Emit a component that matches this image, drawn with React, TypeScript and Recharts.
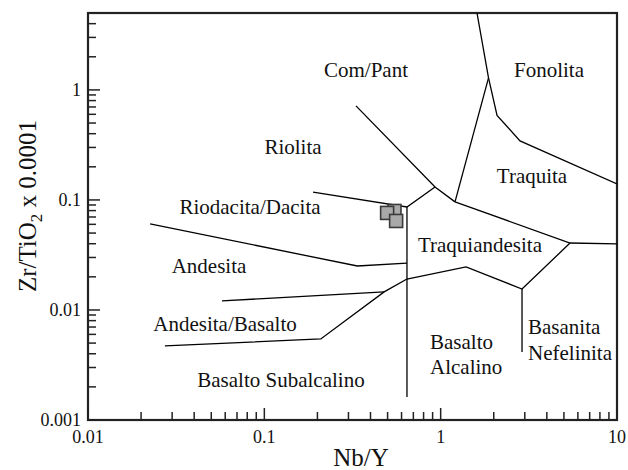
import React from 'react';
import { ComposedChart, Line, Scatter, XAxis, YAxis, Customized } from 'recharts';

const FONT = '"Liberation Serif", "Times New Roman", serif';
const INK = '#111';

// field boundaries, Nb/Y vs Zr/TiO2 x 0.0001 (Winchester & Floyd)
const comPantLine = [{ x: 0.331, y: 0.716 }, { x: 0.929, y: 0.131 }, { x: 1.206, y: 0.096 }];
const fonolitaLine = [
  { x: 1.607, y: 5 }, { x: 1.868, y: 1.285 }, { x: 2.088, y: 0.586 },
  { x: 2.818, y: 0.344 }, { x: 10, y: 0.14 },
];
const traquitaLeft = [{ x: 1.868, y: 1.285 }, { x: 1.206, y: 0.096 }];
const traquitaBottom = [{ x: 1.206, y: 0.096 }, { x: 5.416, y: 0.0406 }, { x: 10, y: 0.0398 }];
const traquiandLower = [
  { x: 0.644, y: 0.0191 }, { x: 1.393, y: 0.0246 }, { x: 2.893, y: 0.0155 }, { x: 5.416, y: 0.0406 },
];
const basanitaLine = [{ x: 2.893, y: 0.0155 }, { x: 2.893, y: 0.00415 }];
const alkalineDivide = [{ x: 0.644, y: 0.0863 }, { x: 0.644, y: 0.00162 }];
const dacitaTop = [{ x: 0.189, y: 0.118 }, { x: 0.644, y: 0.0863 }, { x: 0.929, y: 0.131 }];
const andesitaTop = [{ x: 0.0225, y: 0.0605 }, { x: 0.337, y: 0.0251 }, { x: 0.644, y: 0.0267 }];
const andesitaBottom = [{ x: 0.0575, y: 0.0121 }, { x: 0.478, y: 0.0146 }];
const basaltoTop = [
  { x: 0.0273, y: 0.00471 }, { x: 0.209, y: 0.00545 }, { x: 0.478, y: 0.0146 }, { x: 0.644, y: 0.0191 },
];

const boundaries = [
  comPantLine, fonolitaLine, traquitaLeft, traquitaBottom, traquiandLower,
  basanitaLine, alkalineDivide, dacitaTop, andesitaTop, andesitaBottom, basaltoTop,
];

// samples (drawing order: back to front)
const samples = [
  { x: 0.547, y: 0.0794 },
  { x: 0.497, y: 0.0762 },
  { x: 0.559, y: 0.0644 },
];

const xMajor = [0.01, 0.1, 1, 10];
const yMajor = [0.001, 0.01, 0.1, 1];
const minorSteps = [2, 3, 4, 5, 6, 7, 8, 9];

const xTicks = [
  ...xMajor,
  ...[0.01, 0.1, 1].flatMap((d) => minorSteps.map((m) => Number((m * d).toPrecision(3)))),
];
const yTicks = [
  ...yMajor,
  ...[0.001, 0.01, 0.1].flatMap((d) => minorSteps.map((m) => Number((m * d).toPrecision(3)))),
  2, 3, 4,
];

const regionNames = [
  'Com/Pant', 'Fonolita', 'Riolita', 'Traquita', 'Riodacita/Dacita', 'Traquiandesita',
  'Andesita', 'Andesita/Basalto', 'Basalto Subalcalino', 'Basalto', 'Alcalino', 'Basanita', 'Nefelinita',
];
// pixel placement of the field names
const namePos: Array<[number, number, 'middle' | 'start']> = [
  [366, 77, 'middle'], [549, 77, 'middle'], [293, 154, 'middle'], [532, 183, 'middle'],
  [250, 214, 'middle'], [480, 252, 'middle'], [209, 273, 'middle'], [225, 331, 'middle'],
  [281, 387, 'middle'], [430, 349, 'start'], [430, 374, 'start'], [528, 334, 'start'], [528, 360, 'start'],
];

const XTick = (props: any) => {
  const { x, y, payload } = props;
  const major = xMajor.includes(payload.value);
  return (
    <g>
      <line x1={x} x2={x} y1={y} y2={y - (major ? 12 : 8)} stroke="#222" strokeWidth={1.5} />
      {major && (
        <text x={x} y={y + 23} textAnchor="middle" fontFamily={FONT} fontSize={18} fill={INK}>
          {String(payload.value)}
        </text>
      )}
    </g>
  );
};

const YTick = (props: any) => {
  const { x, y, payload } = props;
  const major = yMajor.includes(payload.value);
  return (
    <g>
      <line x1={x} x2={x + (major ? 12 : 8)} y1={y} y2={y} stroke="#222" strokeWidth={1.5} />
      {major && (
        <text x={x - 7} y={y + 6} textAnchor="end" fontFamily={FONT} fontSize={18} fill={INK}>
          {String(payload.value)}
        </text>
      )}
    </g>
  );
};

const SquareMark = (props: any) => {
  const { cx, cy } = props;
  const s = 13;
  return <rect x={cx - s / 2} y={cy - s / 2} width={s} height={s} fill="#a9a9a9" stroke="#3a3a3a" strokeWidth={1.6} />;
};

const Decor = () => (
  <g>
    <rect x={88} y={13} width={529} height={407} fill="none" stroke="#222" strokeWidth={2.2} />
    {regionNames.map((name, i) => (
      <text key={name} x={namePos[i][0]} y={namePos[i][1]} textAnchor={namePos[i][2]}
        fontFamily={FONT} fontSize={21} fill={INK}>
        {name}
      </text>
    ))}
    <text x={361} y={466} textAnchor="middle" fontFamily={FONT} fontSize={25} fill={INK}>Nb/Y</text>
    <text transform="translate(36,206) rotate(-90)" textAnchor="middle" fontFamily={FONT} fontSize={25} fill={INK}>
      Zr/TiO<tspan dy={6} fontSize={17}>2</tspan><tspan dy={-6}> x 0.0001</tspan>
    </text>
  </g>
);

export default function App() {
  return (
    <div style={{ width: 628, height: 470, background: '#fff' }}>
      <style>{'body{margin:0}'}</style>
      <ComposedChart width={628} height={470} margin={{ top: 13, right: 11, left: 0, bottom: 0 }}>
        <XAxis
          dataKey="x" type="number" scale="log" domain={[0.01, 10]} allowDataOverflow
          ticks={xTicks} interval={0} tick={<XTick />} tickLine={false} axisLine={false}
          tickSize={0} tickMargin={0} height={50}
        />
        <YAxis
          dataKey="y" type="number" scale="log" domain={[0.001, 5]} allowDataOverflow
          ticks={yTicks} interval={0} tick={<YTick />} tickLine={false} axisLine={false}
          tickSize={0} tickMargin={0} width={88}
        />
        {boundaries.map((seg, i) => (
          <Line key={i} data={seg} dataKey="y" type="linear" stroke="#000" strokeWidth={1.3}
            dot={false} activeDot={false} isAnimationActive={false} />
        ))}
        <Scatter data={samples} dataKey="y" shape={<SquareMark />} isAnimationActive={false} />
        <Customized component={<Decor />} />
      </ComposedChart>
    </div>
  );
}
